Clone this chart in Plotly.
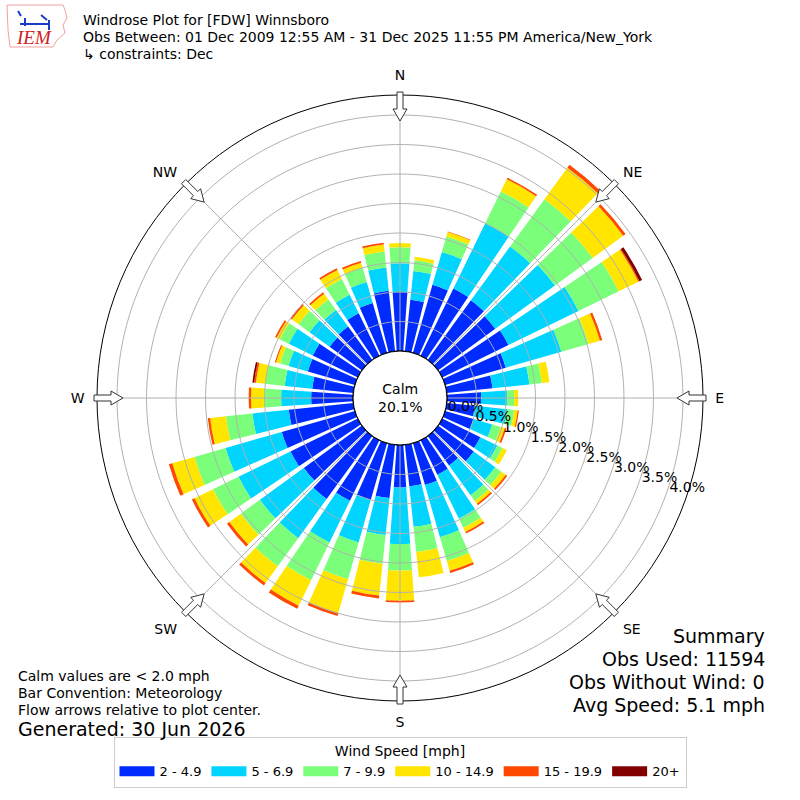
import numpy as np
import plotly.graph_objects as go

# wind direction bins (deg, meteorological) and speed classes
directions = list(range(0, 360, 10))
speed_bins = ['2 - 4.9', '5 - 6.9', '7 - 9.9', '10 - 14.9', '15 - 19.9', '20+']
colors = ['#002bff', '#00d4ff', '#7bff7b', '#ffe500', '#ff4900', '#800000']

# frequency [%] of each speed class per direction bin
pct_2_5 = [1.00, 0.88, 1.20, 1.27, 1.25, 1.20, 1.25, 1.07, 0.78, 0.58, 0.48, 0.50,
           0.72, 0.75, 0.62, 0.65, 0.74, 0.71, 0.72, 0.91, 1.00, 1.14, 1.32, 1.22,
           1.27, 1.29, 1.10, 0.71, 0.70, 0.83, 0.85, 0.68, 0.70, 0.80, 0.88, 1.03]
pct_5_7 = [0.49, 0.49, 0.58, 1.23, 1.13, 1.25, 1.32, 0.98, 0.63, 0.44, 0.55, 0.33,
           0.32, 0.45, 0.62, 0.83, 0.92, 0.69, 0.96, 0.63, 0.75, 0.79, 0.82, 0.92,
           0.98, 0.99, 0.62, 0.51, 0.47, 0.34, 0.45, 0.42, 0.35, 0.35, 0.37, 0.40]
pct_7_10 = [0.27, 0.18, 0.27, 0.60, 0.99, 0.79, 0.76, 0.48, 0.21, 0.12, 0.12, 0.15,
            0.10, 0.13, 0.12, 0.17, 0.42, 0.43, 0.45, 0.49, 0.65, 0.71, 0.59, 0.40,
            0.48, 0.55, 0.45, 0.28, 0.33, 0.15, 0.17, 0.23, 0.22, 0.30, 0.25, 0.27]
pct_10_15 = [0.07, 0.06, 0.08, 0.23, 0.66, 0.64, 0.37, 0.20, 0.13, 0.07, 0.06, 0.07,
             0.08, 0.09, 0.06, 0.08, 0.17, 0.43, 0.51, 0.54, 0.60, 0.48, 0.35, 0.24,
             0.35, 0.39, 0.27, 0.23, 0.16, 0.07, 0.06, 0.14, 0.12, 0.17, 0.09, 0.12]
pct_15_20 = [0.00, 0.00, 0.01, 0.03, 0.06, 0.05, 0.02, 0.04, 0.00, 0.00, 0.02, 0.03,
             0.00, 0.03, 0.03, 0.03, 0.04, 0.00, 0.03, 0.05, 0.05, 0.06, 0.05, 0.05,
             0.05, 0.06, 0.04, 0.04, 0.03, 0.02, 0.03, 0.03, 0.03, 0.03, 0.03, 0.03]
pct_20_up = [0.00, 0.00, 0.00, 0.00, 0.00, 0.00, 0.05, 0.00, 0.00, 0.00, 0.00, 0.00,
             0.00, 0.00, 0.00, 0.00, 0.00, 0.00, 0.00, 0.00, 0.00, 0.00, 0.00, 0.00,
             0.00, 0.00, 0.00, 0.00, 0.03, 0.00, 0.00, 0.00, 0.00, 0.00, 0.00, 0.00]

radial_ticks = [0.0, 0.5, 1.0, 1.5, 2.0, 2.5, 3.0, 3.5, 4.0]
compass = ['N', 'NE', 'E', 'SE', 'S', 'SW', 'W', 'NW']
calm_pct = 20.1

RMAX = 4.34
GRID = '#b0b0b0'
FONT = 'DejaVu Sans'

fig = go.Figure()

series = [pct_2_5, pct_5_7, pct_7_10, pct_10_15, pct_15_20, pct_20_up]
for name, vals, col in zip(speed_bins, series, colors):
    fig.add_trace(go.Barpolar(r=vals, theta=directions, width=8, name=name,
                              showlegend=False,
                              marker=dict(color=col, line=dict(width=0))))
    # legend entry with a wide flat swatch like matplotlib's patches
    fig.add_trace(go.Scatter(x=[None], y=[None], mode='lines', name=name,
                             line=dict(color=col, width=10)))

# grid drawn over the bars, like the matplotlib version
ring = np.linspace(0, 360, 361)
for rv in radial_ticks[1:]:
    fig.add_trace(go.Scatterpolar(r=[rv] * len(ring), theta=ring, mode='lines',
                                  line=dict(color=GRID, width=1),
                                  showlegend=False, hoverinfo='skip'))
for a in range(0, 360, 45):
    fig.add_trace(go.Scatterpolar(r=[0, RMAX], theta=[a, a], mode='lines',
                                  line=dict(color=GRID, width=1),
                                  showlegend=False, hoverinfo='skip'))
# calm circle outline
fig.add_trace(go.Scatterpolar(r=[0] * len(ring), theta=ring, mode='lines',
                              line=dict(color='black', width=1.2),
                              showlegend=False, hoverinfo='skip'))


def px_path(points, close=True):
    # screen pixels (y down) -> paper path
    s = ' L '.join(f'{x / 800:.5f},{1 - y / 800:.5f}' for x, y in points)
    return 'M ' + s + (' Z' if close else '')


# hollow flow arrows at the compass points
cx, cy = 400, 398
arrow = [(277, 0), (289, 7), (289, 3), (306, 3), (306, -3), (289, -3), (289, -7)]
shapes = []
for a in range(0, 360, 45):
    t = np.radians(a)
    pts = [(cx + rr * np.sin(t) + w * np.cos(t), cy - rr * np.cos(t) + w * np.sin(t))
           for rr, w in arrow]
    shapes.append(dict(type='path', xref='paper', yref='paper', path=px_path(pts),
                       fillcolor='white', line=dict(color='#333333', width=1)))

# rough IEM logo: state outline plus the blue mark
iowa = [(7, 5), (63, 5), (65, 10), (67, 18), (63, 25), (65, 33), (57, 40), (53, 47),
        (10, 47), (8, 30)]
shapes.append(dict(type='path', xref='paper', yref='paper', path=px_path(iowa),
                   line=dict(color='#f2a0a0', width=1)))
for seg in [[(20, 24), (50, 24)], [(25, 18), (25, 26)], [(41, 15), (47, 20)],
            [(49, 20), (49, 30)], [(18, 11), (21, 16)]]:
    shapes.append(dict(type='path', xref='paper', yref='paper', path=px_path(seg, False),
                       line=dict(color='#1a3cc8', width=2)))

fig.update_layout(
    width=800, height=800,
    margin=dict(l=0, r=0, t=0, b=0),
    paper_bgcolor='white',
    plot_bgcolor='rgba(0,0,0,0)',
    font=dict(family=FONT, size=14, color='black'),
    shapes=shapes,
    xaxis=dict(visible=False, domain=[0, 0.01]),
    yaxis=dict(visible=False, domain=[0, 0.01]),
    polar=dict(
        domain=dict(x=[0.12125, 0.87875], y=[0.12375, 0.88125]),
        hole=0.155,
        bgcolor='white',
        angularaxis=dict(rotation=90, direction='clockwise',
                         tickvals=list(range(0, 360, 45)), ticktext=compass,
                         ticks='outside', ticklen=9, tickcolor='rgba(0,0,0,0)',
                         showgrid=False, showline=True,
                         linecolor='black', linewidth=1,
                         tickfont=dict(size=14)),
        radialaxis=dict(range=[0, RMAX], tickvals=radial_ticks,
                        ticktext=[f'{v:.1f}%' for v in radial_ticks],
                        angle=-20, tickangle=-20, side='counterclockwise',
                        ticks='', showline=False,
                        showgrid=False, tickfont=dict(size=14)),
    ),
    legend=dict(orientation='h', x=0.5, xanchor='center', y=0.015, yanchor='bottom',
                bordercolor='#cccccc', borderwidth=1, font=dict(size=13), itemwidth=35,
                title=dict(text='Wind Speed [mph]', side='top center', font=dict(size=14))),
)

left = 81 / 800
header = ['Windrose Plot for [FDW] Winnsboro',
          'Obs Between: 01 Dec 2009 12:55 AM - 31 Dec 2025 11:55 PM America/New_York',
          '\u21b3 constraints: Dec']
for i, txt in enumerate(header):
    fig.add_annotation(text=txt, xref='paper', yref='paper', x=left, y=1 - (20 + 17 * i) / 800,
                       xanchor='left', yanchor='middle', showarrow=False, font=dict(size=14))

fig.add_annotation(text='<i>IEM</i>', xref='paper', yref='paper', x=34 / 800, y=1 - 38 / 800,
                   xanchor='center', yanchor='middle', showarrow=False,
                   font=dict(family='Liberation Serif', size=19, color='#d02020'))

notes = ['Calm values are < 2.0 mph', 'Bar Convention: Meteorology',
         'Flow arrows relative to plot center.']
for i, txt in enumerate(notes):
    fig.add_annotation(text=txt, xref='paper', yref='paper', x=16 / 800, y=1 - (676 + 17 * i) / 800,
                       xanchor='left', yanchor='middle', showarrow=False, font=dict(size=14))
fig.add_annotation(text='Generated: 30 Jun 2026', xref='paper', yref='paper', x=16 / 800,
                   y=1 - 729 / 800, xanchor='left', yanchor='middle', showarrow=False,
                   font=dict(size=19))

summary = ['Summary', 'Obs Used: 11594', 'Obs Without Wind: 0', 'Avg Speed: 5.1 mph']
for i, txt in enumerate(summary):
    fig.add_annotation(text=txt, xref='paper', yref='paper', x=767 / 800, y=1 - (636 + 23 * i) / 800,
                       xanchor='right', yanchor='middle', showarrow=False, font=dict(size=19))

fig.add_annotation(text=f'Calm<br>{calm_pct}%', xref='paper', yref='paper', x=0.5, y=1 - cy / 800,
                   xanchor='center', yanchor='middle', showarrow=False, font=dict(size=14))

fig.write_html('out.html', config={'displayModeBar': False},
               post_script="document.body.style.margin='0';")
